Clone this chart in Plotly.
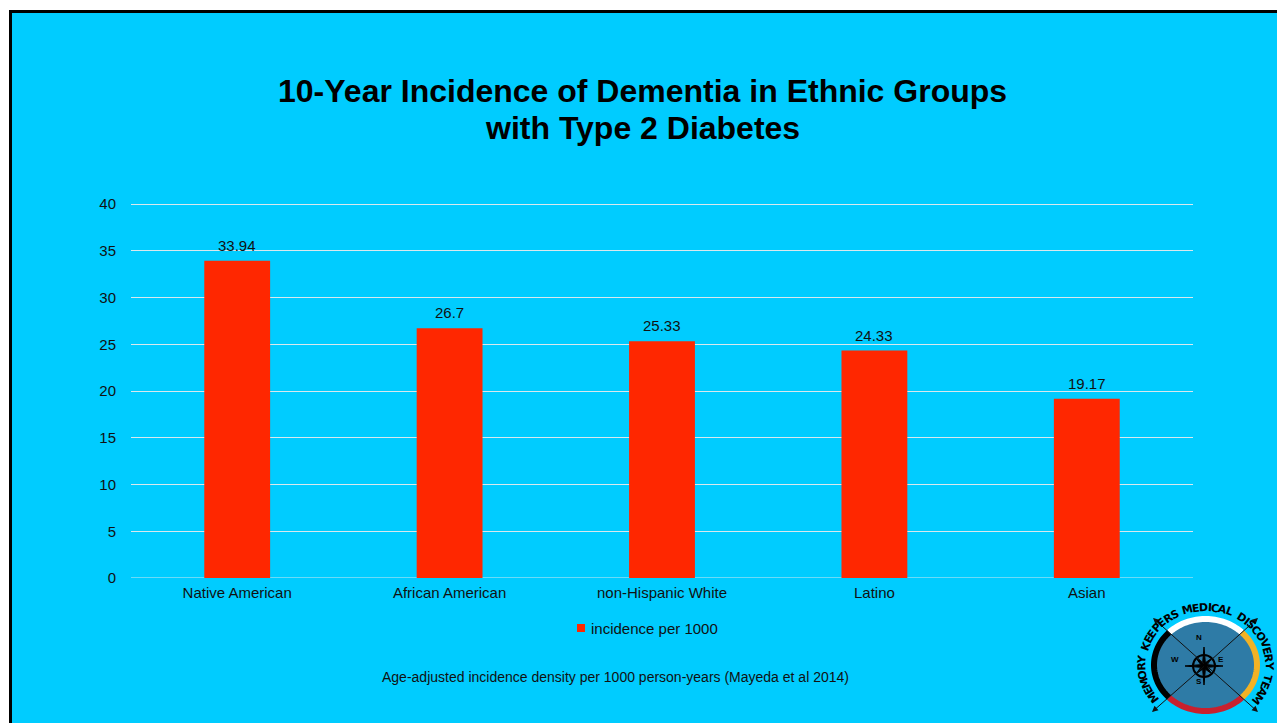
import numpy as np
import plotly.graph_objects as go

# ---- data ----
groups = ["Native American", "African American", "non-Hispanic White", "Latino", "Asian"]
incidence = [33.94, 26.7, 25.33, 24.33, 19.17]
series_name = "incidence per 1000"
y_ticks = [0, 5, 10, 15, 20, 25, 30, 35, 40]

title_lines = ["10-Year Incidence of Dementia in Ethnic Groups", "with Type 2 Diabetes"]
note_text = "Age-adjusted incidence density per 1000 person-years (Mayeda et al 2014)"
logo_text = "MEMORY KEEPERS MEDICAL DISCOVERY TEAM"

# ---- page geometry ----
W, H = 1277, 723
Y0_PIX, Y40_PIX = 578, 204          # pixel rows of the 0 and 40 gridlines
ML, MR, MT, MB = 131, 84, 198, H - Y0_PIX
PW, PH = W - ML - MR, H - MT - MB
Y_TOP = 40 * PH / (Y0_PIX - Y40_PIX)  # a little headroom so the 40 gridline is drawn
BG = "#00CCFF"
BAR = "#FF2700"
GRID = "#D9E8EE"
INK = "#111111"
FONT = "Liberation Sans, Arial, sans-serif"


def px(x):
    return (x - ML) / PW


def py(y):
    return (H - MB - y) / PH


fig = go.Figure()
fig.add_trace(go.Bar(
    x=groups, y=incidence, name=series_name,
    marker=dict(color=BAR, line=dict(width=0)),
    width=0.31, showlegend=False,
))

shapes = []
annotations = []

# slide background with its black frame
shapes.append(dict(type="rect", xref="paper", yref="paper",
                   x0=px(10.5), x1=px(W + 20), y0=py(11.5), y1=py(H + 20),
                   fillcolor=BG, line=dict(color="black", width=3), layer="below"))

# value labels above the bars
for g, v in zip(groups, incidence):
    annotations.append(dict(x=g, y=v, xref="x", yref="y", text=f"{v:g}", showarrow=False,
                            yanchor="bottom", yshift=5,
                            font=dict(size=15, color=INK, family=FONT)))

# title and footnote
for line, ty in zip(title_lines, [91, 128]):
    annotations.append(dict(text=f"<b>{line}</b>", x=px(642), y=py(ty), xref="paper", yref="paper",
                            showarrow=False, xanchor="center", yanchor="middle",
                            font=dict(size=32, color="black", family=FONT)))
annotations.append(dict(text=note_text, x=px(615), y=py(677), xref="paper", yref="paper",
                        showarrow=False, xanchor="center", yanchor="middle",
                        font=dict(size=14, color=INK, family=FONT)))

# legend entry
shapes.append(dict(type="rect", xref="paper", yref="paper",
                   x0=px(577), x1=px(585), y0=py(632), y1=py(624),
                   fillcolor=BAR, line=dict(width=0)))
annotations.append(dict(text=series_name, x=px(589), y=py(628), xref="paper", yref="paper",
                        showarrow=False, xanchor="left", yanchor="middle",
                        font=dict(size=15, color=INK, family=FONT)))

# ---- team emblem (compass) ----
cx, cy = 1205.5, 665


def ell_path(rx, ry, a0, a1, n=60, close=False):
    t = np.radians(np.linspace(a0, a1, n))
    xs = cx + rx * np.cos(t)
    ys = cy - ry * np.sin(t)
    pts = [f"{px(x):.5f},{py(y):.5f}" for x, y in zip(xs, ys)]
    p = "M " + " L ".join(pts)
    return p + (" Z" if close else "")


shapes.append(dict(type="path", xref="paper", yref="paper",
                   path=ell_path(52, 46.5, 0, 360, 120, close=True),
                   fillcolor="#2E7BA6", line=dict(width=0)))
for a0, a1, col in [(45, 135, "white"), (-45, 45, "#F2B225"),
                    (225, 315, "#C8202E"), (135, 225, "black")]:
    shapes.append(dict(type="path", xref="paper", yref="paper",
                       path=ell_path(51.5, 46, a0, a1, 40),
                       line=dict(color=col, width=6)))

# diagonal arrows
for ex, ey in [(1153, 618), (1258, 618), (1152, 712), (1258, 712)]:
    annotations.append(dict(x=px(ex), y=py(ey), xref="paper", yref="paper",
                            ax=cx - ex, ay=cy - ey, text="", showarrow=True,
                            arrowhead=2, arrowsize=1.2, arrowwidth=1, arrowcolor=INK))

# compass rose
scx, scy = 1204, 666
star = []
for k in range(16):
    ang = np.radians(90 - k * 22.5)
    if k % 4 == 0:
        r = 19
    elif k % 2 == 0:
        r = 11
    else:
        r = 3.5
    star.append((scx + r * np.cos(ang), scy - r * np.sin(ang)))
shapes.append(dict(type="path", xref="paper", yref="paper",
                   path="M " + " L ".join(f"{px(x):.5f},{py(y):.5f}" for x, y in star) + " Z",
                   fillcolor="black", line=dict(color="black", width=1)))
shapes.append(dict(type="circle", xref="paper", yref="paper",
                   x0=px(scx - 11), x1=px(scx + 11), y0=py(scy + 11), y1=py(scy - 11),
                   line=dict(color="black", width=2)))
for lab, lx, ly in [("N", scx, scy - 22), ("S", scx, scy + 22), ("W", scx - 23, scy), ("E", scx + 22, scy)]:
    annotations.append(dict(text=f"<b>{lab}</b>", x=px(lx), y=py(ly), xref="paper", yref="paper",
                            showarrow=False, font=dict(size=8, color="black", family=FONT)))

# emblem lettering along an ellipse, reading clockwise, spaced by glyph width
glyph_w = {"M": .86, "E": .68, "O": .85, "R": .77, "Y": .72, "K": .78, "P": .73, "S": .72,
           "D": .83, "I": .37, "C": .73, "A": .77, "L": .64, "V": .77, "T": .68, " ": .55}
ta, tb = 63.5, 57.5
tcx, tcy = 1205.5, 665
thetas = np.radians(np.linspace(214, -36, 2000))
seg = np.hypot(np.diff(ta * np.cos(thetas)), np.diff(tb * np.sin(thetas)))
arclen = np.concatenate([[0], np.cumsum(seg)])
widths = np.array([glyph_w[c] for c in logo_text])
centers = np.cumsum(widths) - widths / 2
centers = (centers - centers[0]) / (centers[-1] - centers[0]) * arclen[-1]
for ch, s in zip(logo_text, centers):
    if ch == " ":
        continue
    th = np.interp(s, arclen, thetas)
    lx = tcx + ta * np.cos(th)
    ly = tcy - tb * np.sin(th)
    rot = np.degrees(np.arctan2(tb * np.cos(th), ta * np.sin(th)))
    annotations.append(dict(text=f"<b>{ch}</b>", x=px(lx), y=py(ly), xref="paper", yref="paper",
                            showarrow=False, textangle=float(rot),
                            xanchor="center", yanchor="middle",
                            font=dict(size=11, color="black", family="DejaVu Sans, sans-serif")))

fig.update_layout(
    width=W, height=H,
    margin=dict(l=ML, r=MR, t=MT, b=MB, pad=0),
    paper_bgcolor="white", plot_bgcolor="rgba(0,0,0,0)",
    font=dict(family=FONT, color=INK, size=15),
    showlegend=False,
    bargap=0.69,
    shapes=shapes,
    annotations=annotations,
)
fig.update_yaxes(range=[0, Y_TOP], tickvals=y_ticks, showgrid=True, gridcolor=GRID, gridwidth=1,
                 zeroline=False, showline=False, ticks="", ticklabelstandoff=14,
                 tickfont=dict(size=15, color=INK, family=FONT), fixedrange=True)
fig.update_xaxes(showgrid=False, showline=False, ticks="", ticklabelstandoff=4,
                 tickfont=dict(size=15, color=INK, family=FONT))
# baseline along zero
fig.add_hline(y=0, line=dict(color=GRID, width=1), layer="below")

fig.write_html("out.html")
